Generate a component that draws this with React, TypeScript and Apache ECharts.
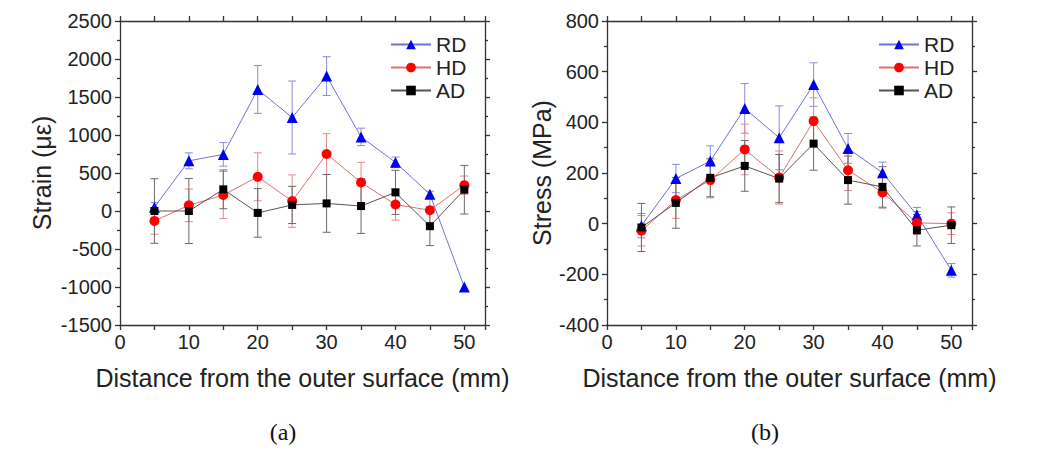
import React, { useEffect, useRef } from "react";
import * as echarts from "echarts";

const distance = [5, 10, 15, 20, 25, 30, 35, 40, 45, 50];

const strainRD = [50, 660, 745, 1600, 1230, 1775, 975, 640, 220, -1000];
const strainRDErr = [60, 105, 155, 315, 480, 255, 115, 70, 40, 0];
const strainHD = [-130, 75, 210, 450, 130, 750, 375, 85, 10, 340];
const strainHDErr = [175, 215, 310, 315, 345, 268, 265, 205, 180, 120];
const strainAD = [0, 0, 285, -25, 80, 100, 65, 245, -200, 280];
const strainADErr = [425, 428, 255, 320, 245, 380, 360, 290, 255, 320];

const stressRD = [-8, 178, 247, 455, 339, 549, 297, 201, 34, -184];
const stressRDErr = [48, 56, 60, 98, 126, 86, 59, 42, 30, 27];
const stressHD = [-28, 93, 172, 293, 182, 405, 211, 123, 3, 0];
const stressHDErr = [60, 72, 70, 100, 105, 92, 80, 62, 45, 43];
const stressAD = [-15, 82, 181, 228, 178, 316, 172, 145, -26, -6];
const stressADErr = [95, 100, 75, 100, 95, 105, 95, 80, 62, 72];

const seriesNames = ["RD", "HD", "AD"];
const xTitle = "Distance from the outer surface (mm)";
const strainTitle = "Strain (\u03bc\u03b5)";
const stressTitle = "Stress (MPa)";

const FONT = "Liberation Sans";

const styles = {
  RD: { marker: "#0000f0", line: "#7070d8", err: "#8a8ae0", symbol: "triangle", size: 11 },
  HD: { marker: "#ff0000", line: "#e07070", err: "#e58a8a", symbol: "circle", size: 10 },
  AD: { marker: "#000000", line: "#555555", err: "#6a6a6a", symbol: "rect", size: 8 },
} as Record<string, any>;

function pts(vals: number[]) {
  return distance.map((d, i) => [d, vals[i]]);
}
function errPts(vals: number[], errs: number[]) {
  return distance.map((d, i) => [d, vals[i] - errs[i], vals[i] + errs[i]]);
}

function renderErr(color: string) {
  return (params: any, api: any) => {
    const x = api.value(0);
    const lo = api.value(1);
    const hi = api.value(2);
    if (hi === lo) return { type: "group", children: [] };
    const top = api.coord([x, hi]);
    const bot = api.coord([x, lo]);
    const w = 4;
    const style = { stroke: color, lineWidth: 1 };
    return {
      type: "group",
      children: [
        { type: "line", shape: { x1: top[0], y1: top[1], x2: bot[0], y2: bot[1] }, style },
        { type: "line", shape: { x1: top[0] - w, y1: top[1], x2: top[0] + w, y2: top[1] }, style },
        { type: "line", shape: { x1: bot[0] - w, y1: bot[1], x2: bot[0] + w, y2: bot[1] }, style },
      ],
    };
  };
}

const axisLineStyle = { color: "#333", width: 1.3 };

function xAxes(gridIndex: number) {
  const base = {
    gridIndex,
    type: "value",
    min: 0,
    max: 53,
    interval: 5,
    splitLine: { show: false },
    axisLine: { show: true, onZero: false, lineStyle: axisLineStyle },
    axisTick: { show: true, inside: false, length: 5, lineStyle: axisLineStyle },
  };
  return [
    {
      ...base,
      position: "bottom",
      axisLabel: {
        show: true,
        fontSize: 20,
        color: "#222",
        fontFamily: FONT,
        margin: 7,
        formatter: (v: number) => (v % 10 === 0 && v <= 50 ? String(v) : ""),
      },
      name: xTitle,
      nameLocation: "middle",
      nameGap: 40,
      nameTextStyle: { fontSize: 25, color: "#222", fontFamily: FONT },
    },
    { ...base, position: "top", axisLabel: { show: false } },
  ];
}

function yAxes(gridIndex: number, min: number, max: number, interval: number, name: string, gap: number) {
  const base = {
    gridIndex,
    type: "value",
    min,
    max,
    interval,
    splitLine: { show: false },
    axisLine: { show: true, onZero: false, lineStyle: axisLineStyle },
    axisTick: { show: true, inside: false, length: 5, lineStyle: axisLineStyle },
    minorTick: { show: true, splitNumber: 2, length: 3, lineStyle: axisLineStyle },
  };
  return [
    {
      ...base,
      position: "left",
      axisLabel: {
        show: true,
        fontSize: 20,
        color: "#222",
        fontFamily: FONT,
        margin: 8,
        formatter: (v: number) => String(v),
      },
      name,
      nameLocation: "middle",
      nameRotate: 90,
      nameGap: gap,
      nameTextStyle: { fontSize: 25, color: "#222", fontFamily: FONT },
    },
    { ...base, position: "right", axisLabel: { show: false } },
  ];
}

function seriesFor(axisIdx: number, data: Record<string, [number[], number[]]>) {
  const out: any[] = [];
  seriesNames.forEach((n) => {
    const st = styles[n];
    const [vals, errs] = data[n];
    out.push({
      type: "custom",
      xAxisIndex: axisIdx,
      yAxisIndex: axisIdx,
      renderItem: renderErr(st.err),
      data: errPts(vals, errs),
      encode: { x: 0, y: [1, 2] },
      z: 1,
      silent: true,
    });
  });
  seriesNames.forEach((n) => {
    const st = styles[n];
    const [vals] = data[n];
    out.push({
      name: n,
      type: "line",
      xAxisIndex: axisIdx,
      yAxisIndex: axisIdx,
      data: pts(vals),
      symbol: st.symbol,
      symbolSize: st.size,
      showSymbol: true,
      itemStyle: { color: st.marker },
      lineStyle: { color: st.line, width: 1 },
      z: 3,
    });
  });
  return out;
}

function legend(left: number) {
  return {
    orient: "vertical",
    left,
    top: 34,
    padding: 0,
    data: seriesNames,
    itemWidth: 40,
    itemHeight: 12,
    itemGap: 2,
    itemTextGap: 7,
    textStyle: { fontSize: 21, color: "#222", fontFamily: FONT },
  };
}

export default function App() {
  const ref = useRef<HTMLDivElement>(null);
  useEffect(() => {
    if (!ref.current) return;
    const chart = echarts.init(ref.current, undefined, { renderer: "svg" });
    const option: any = {
      animation: false,
      backgroundColor: "#ffffff",
      grid: [
        { left: 120, top: 21, width: 365, height: 304 },
        { left: 607, top: 21, width: 365, height: 304 },
      ],
      xAxis: [...xAxes(0), ...xAxes(1)],
      yAxis: [
        ...yAxes(0, -1500, 2500, 500, strainTitle, 66),
        ...yAxes(1, -400, 800, 200, stressTitle, 53),
      ],
      legend: [legend(390), legend(878)],
      series: [
        ...seriesFor(0, {
          RD: [strainRD, strainRDErr],
          HD: [strainHD, strainHDErr],
          AD: [strainAD, strainADErr],
        }),
        ...seriesFor(2, {
          RD: [stressRD, stressRDErr],
          HD: [stressHD, stressHDErr],
          AD: [stressAD, stressADErr],
        }),
      ],
      graphic: [
        {
          type: "text",
          x: 283,
          y: 432,
          style: { text: "(a)", fontSize: 24, fontFamily: "Liberation Serif", fill: "#111", align: "center", verticalAlign: "middle" },
        },
        {
          type: "text",
          x: 765,
          y: 432,
          style: { text: "(b)", fontSize: 24, fontFamily: "Liberation Serif", fill: "#111", align: "center", verticalAlign: "middle" },
        },
      ],
    };
    chart.setOption(option);
    return () => chart.dispose();
  }, []);
  return (
    <div
      ref={ref}
      style={{ position: "absolute", left: 0, top: 0, width: 1042, height: 450, background: "#fff" }}
    />
  );
}
